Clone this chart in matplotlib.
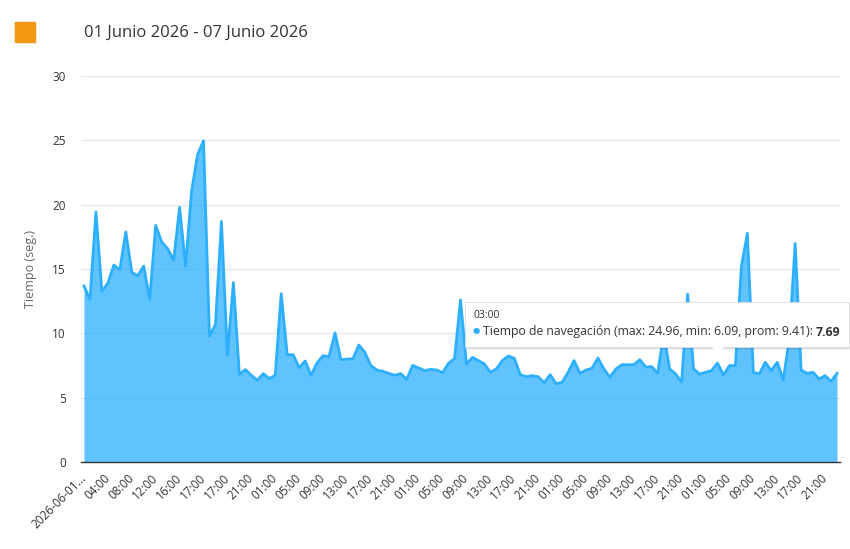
import numpy as np
import matplotlib.pyplot as plt
from matplotlib.patches import Rectangle, Polygon

plt.rcParams['font.family'] = ['Open Sans', 'DejaVu Sans']

# Tiempo de navegación (seg.) por hora
tiempo = [13.68, 12.62, 19.43, 13.24, 13.91, 15.31, 14.95, 17.88, 14.74, 14.48,
          15.23, 12.62, 18.39, 17.10, 16.58, 15.67, 19.79, 15.21, 21.04, 23.89,
          24.96, 9.77, 10.70, 18.70, 8.30, 13.94, 6.81, 7.18, 6.74, 6.35,
          6.87, 6.48, 6.74, 13.08, 8.34, 8.34, 7.33, 7.85, 6.74, 7.70,
          8.26, 8.19, 10.03, 7.95, 8.00, 8.03, 9.09, 8.52, 7.49, 7.15,
          7.05, 6.89, 6.74, 6.87, 6.42, 7.51, 7.31, 7.10, 7.20, 7.15,
          6.94, 7.67, 8.03, 12.59, 7.62, 8.13, 7.88, 7.62, 6.97, 7.23,
          7.88, 8.24, 8.06, 6.79, 6.63, 6.71, 6.63, 6.15, 6.79, 6.09,
          6.19, 6.97, 7.88, 6.89, 7.15, 7.28, 8.08, 7.23, 6.58, 7.23,
          7.56, 7.56, 7.56, 7.95, 7.38, 7.41, 6.89, 10.00, 7.23, 6.84,
          6.20, 13.05, 7.23, 6.84, 6.97, 7.10, 7.69, 6.76, 7.49, 7.49,
          15.20, 17.77, 6.97, 6.84, 7.75, 7.10, 7.75, 6.37, 9.50, 16.98,
          7.15, 6.89, 6.97, 6.45, 6.71, 6.27, 6.89]

# una etiqueta cada 4 puntos
etiquetas = ['2026-06-01...', '04:00', '08:00', '12:00', '16:00', '17:00',
             '17:00', '21:00'] + ['01:00', '05:00', '09:00', '13:00', '17:00', '21:00'] * 4

titulo = '01 Junio 2026 - 07 Junio 2026'
tooltip_hora = '03:00'
tooltip_punto = 106
tooltip_texto = 'Tiempo de navegación (max: 24.96, min: 6.09, prom: 9.41): '
tooltip_valor = '7.69'

W, H = 850, 549
def fx(px):
    return px / W
def fy(py):
    return 1 - py / H

fig = plt.figure(figsize=(8.5, 5.49), dpi=100)
ax = fig.add_axes([fx(81), fy(462), 759 / W, 386 / H])

x = np.arange(len(tiempo))
ax.fill_between(x, tiempo, color='#2caffe', alpha=0.75, lw=0)
ax.plot(x, tiempo, color='#2caffe', lw=2)

ax.set_xlim(-0.5, len(tiempo) - 0.5)
ax.set_ylim(0, 30)
ax.set_yticks(range(0, 31, 5))
ax.grid(axis='y', color='#e6e6e6', lw=1)
ax.set_axisbelow(True)
for s in ['top', 'right', 'left']:
    ax.spines[s].set_visible(False)
ax.spines['bottom'].set_color('#333333')
ax.spines['bottom'].set_linewidth(1)

ax.set_xticks(x[::4])
ax.set_xticklabels(etiquetas, rotation=45, ha='right', va='center', rotation_mode='anchor')
ax.tick_params(axis='x', length=0, pad=10, labelsize=8.5, labelcolor='#333333')
ax.tick_params(axis='y', length=0, pad=11, labelsize=8.5, labelcolor='#333333')
ax.set_ylabel('Tiempo (seg.)', color='#666666', fontsize=9)
ax.yaxis.set_label_coords((37 - 81) / 759, 0.5)

# título y cuadro naranja
fig.patches.append(Rectangle((fx(15), fy(42)), 20 / W, 20 / H, transform=fig.transFigure,
                             color='#f29812'))
fig.text(fx(84), fy(33), titulo, fontsize=12, color='#333333', va='center')

# tooltip
for off, a in [(3, 0.05), (2, 0.08), (1, 0.12)]:
    fig.patches.append(Rectangle((fx(465 + off), fy(347 + off)), 384 / W, 45 / H,
                                 transform=fig.transFigure, color='black', alpha=a, lw=0))
fig.patches.append(Rectangle((fx(465), fy(347)), 384 / W, 45 / H, transform=fig.transFigure,
                             facecolor='white', edgecolor='#dddddd', lw=0.6))
px_tip = 84 + tooltip_punto * 5.98
fig.patches.append(Polygon([(fx(px_tip - 7), fy(346.5)), (fx(px_tip + 7), fy(346.5)),
                            (fx(px_tip), fy(353))], closed=True, transform=fig.transFigure,
                           facecolor='white', edgecolor='none'))
fig.text(fx(473), fy(316), tooltip_hora, fontsize=7.5, color='#333333', va='center')
fig.text(fx(473), fy(332), '●', fontsize=6, color='#2caffe', va='center')
t = fig.text(fx(483), fy(332), tooltip_texto, fontsize=8.8, color='#333333', va='center')
fig.canvas.draw()
bb = t.get_window_extent()
fig.text(bb.x1 / W, fy(332), tooltip_valor, fontsize=8.8, color='#333333',
         fontweight='bold', va='center')

fig.savefig('out.png', dpi=100)
